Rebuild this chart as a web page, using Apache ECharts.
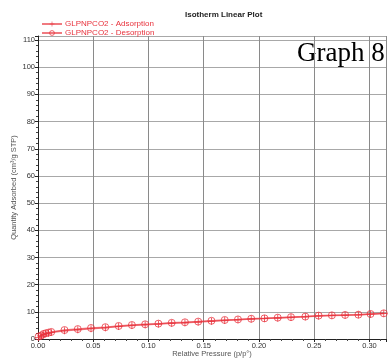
<!DOCTYPE html>
<html>
<head>
<meta charset="utf-8">
<script src="https://cdn.jsdelivr.net/npm/echarts@6/dist/echarts.min.js"></script>
<style>
  html, body { margin: 0; padding: 0; background: #fff; }
  #chart { width: 388px; height: 360px; }
</style>
</head>
<body>
<div id="chart"></div>
<script>
// Relative pressure (p/p°) points of the isotherm
const pressure = [0.0005, 0.003, 0.005, 0.007, 0.0095, 0.012, 0.024, 0.036, 0.048, 0.061,
  0.073, 0.085, 0.097, 0.109, 0.121, 0.133, 0.145, 0.157, 0.169, 0.181,
  0.193, 0.205, 0.217, 0.229, 0.242, 0.254, 0.266, 0.278, 0.290, 0.301, 0.313];
// Quantity adsorbed (cm³/g STP)
const adsorption = [0.6, 1.1, 1.6, 1.9, 2.1, 2.35, 3.0, 3.4, 3.8, 4.1,
  4.6, 5.0, 5.25, 5.5, 5.8, 6.0, 6.25, 6.55, 6.85, 7.1,
  7.35, 7.5, 7.75, 7.95, 8.15, 8.5, 8.65, 8.75, 8.9, 9.15, 9.4];
const desorption = [0.9, 1.3, 1.85, 2.1, 2.35, 2.6, 3.3, 3.65, 4.05, 4.35,
  4.8, 5.15, 5.4, 5.65, 5.95, 6.15, 6.4, 6.7, 7.0, 7.2,
  7.45, 7.6, 7.85, 8.05, 8.25, 8.6, 8.7, 8.85, 8.95, 9.2, 9.45];
const seriesNames = ['GLPNPCO2 - Adsorption', 'GLPNPCO2 - Desorption'];

const red = '#e8323c';
const plus = 'path://M3.5,0h1v8h-1z M0,3.5h8v1h-8z';

const chart = echarts.init(document.getElementById('chart'));
chart.setOption({
  animation: false,
  title: {
    text: 'Isotherm Linear Plot',
    left: 180, top: 6,
    textStyle: { fontFamily: 'Liberation Sans', fontSize: 8, fontWeight: 'bold', color: '#222' }
  },
  legend: {
    orient: 'vertical', left: 36, top: 15, itemGap: 1,
    itemWidth: 20, itemHeight: 6,
    textStyle: { fontFamily: 'Liberation Sans', fontSize: 8, color: red, padding: [0, 0, 0, -2] },
    data: [
      { name: seriesNames[0] },
      { name: seriesNames[1], itemStyle: { color: 'rgba(255,255,255,0)', borderColor: red, borderWidth: 0.9 } }
    ]
  },
  graphic: [{
    type: 'text', left: 297, top: 40,
    style: { text: 'Graph 8', font: '27px "Liberation Serif"', fill: '#000' }
  }],
  grid: { left: 38, top: 36, right: 2, bottom: 21, outerBoundsMode: 'none' },
  xAxis: {
    type: 'value', min: 0, max: 0.315, interval: 0.05,
    name: 'Relative Pressure (p/p°)', nameLocation: 'middle', nameGap: 11, nameMoveOverlap: false,
    nameTextStyle: { fontFamily: 'Liberation Sans', fontSize: 7.5, color: '#555' },
    axisLine: { lineStyle: { color: '#222' } },
    axisTick: { length: 3, lineStyle: { color: '#222' } },
    minorTick: { show: true, splitNumber: 5, length: 2, lineStyle: { color: '#444' } },
    axisLabel: { showMaxLabel: false, margin: 3, fontFamily: 'Liberation Sans', fontSize: 7.5, color: '#333',
      formatter: v => v.toFixed(2) },
    splitLine: { show: true, lineStyle: { color: '#8a8a8a', width: 1 } }
  },
  yAxis: {
    type: 'value', min: 0, max: 111.5, interval: 10,
    name: 'Quantity Adsorbed (cm³/g STP)', nameLocation: 'middle', nameGap: 20, nameMoveOverlap: false,
    nameTextStyle: { fontFamily: 'Liberation Sans', fontSize: 7.5, color: '#555' },
    axisLine: { show: true, lineStyle: { color: '#222' } },
    axisTick: { show: true, length: 3, lineStyle: { color: '#222' } },
    minorTick: { show: true, splitNumber: 5, length: 2, lineStyle: { color: '#444' } },
    axisLabel: { showMaxLabel: false, margin: 3, fontFamily: 'Liberation Sans', fontSize: 7.5, color: '#333' },
    splitLine: { show: true, lineStyle: { color: '#a8a8a8', width: 1 } }
  },
  series: [
    {
      name: seriesNames[0], type: 'line',
      data: pressure.map((p, i) => [p, adsorption[i]]),
      symbol: plus, symbolSize: 7,
      itemStyle: { color: red, opacity: 0.9 },
      lineStyle: { color: red, width: 1.5, opacity: 0.65 }
    },
    {
      name: seriesNames[1], type: 'line',
      data: pressure.map((p, i) => [p, desorption[i]]),
      symbol: 'circle', symbolSize: 7,
      itemStyle: { color: 'rgba(255,255,255,0)', borderColor: red, borderWidth: 0.9, opacity: 0.85 },
      lineStyle: { color: red, width: 1.5, opacity: 0.65 }
    }
  ]
});
</script>
</body>
</html>
